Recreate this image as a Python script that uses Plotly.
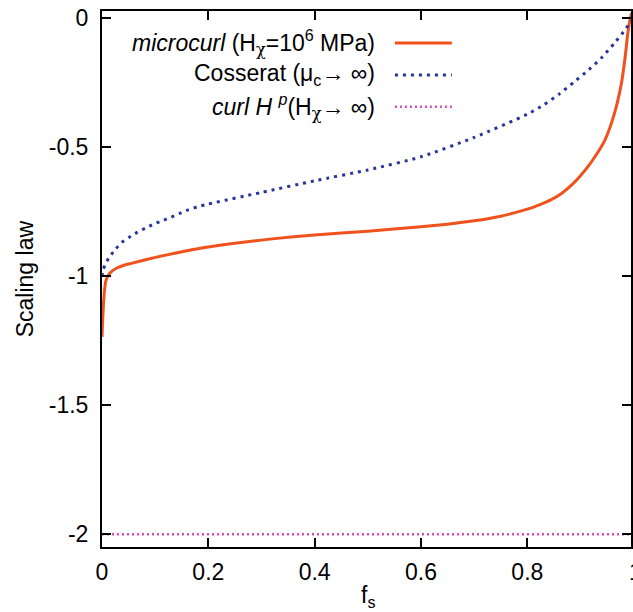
import plotly.graph_objects as go

# ---- data ----
f_micro = [0.0, 0.001, 0.003, 0.005, 0.007, 0.010, 0.014, 0.020, 0.028, 0.040, 0.057, 0.080,
           0.120, 0.180, 0.250, 0.320, 0.400, 0.500, 0.600, 0.650, 0.700, 0.750, 0.800, 0.825,
           0.845, 0.865, 0.883, 0.900, 0.914, 0.930, 0.946, 0.964, 0.977, 0.984, 0.989,
           0.993, 0.996]
s_micro = [-1.235, -1.18, -1.10, -1.05, -1.02, -1.003, -0.99, -0.978, -0.968, -0.958, -0.949,
           -0.937, -0.918, -0.893, -0.872, -0.855, -0.840, -0.825, -0.808, -0.798, -0.785,
           -0.767, -0.740, -0.721, -0.703, -0.678, -0.647, -0.610, -0.575, -0.528, -0.472,
           -0.368, -0.252, -0.150, -0.058, -0.008, 0.02]

f_coss = [0.0, 0.002, 0.006, 0.014, 0.026, 0.037, 0.052, 0.067, 0.082, 0.097, 0.114, 0.130,
          0.146, 0.162, 0.179, 0.200, 0.300, 0.400, 0.500, 0.600, 0.700, 0.800, 0.832,
          0.861, 0.888, 0.916, 0.941, 0.964, 0.986, 0.995]
s_coss = [-1.0, -0.975, -0.955, -0.925, -0.894, -0.869, -0.848, -0.829, -0.813, -0.798, -0.784,
          -0.771, -0.756, -0.743, -0.731, -0.720, -0.675, -0.630, -0.588, -0.537, -0.462,
          -0.372, -0.334, -0.292, -0.247, -0.199, -0.150, -0.096, -0.039, -0.010]

f_curl = [0.0, 1.0]
s_curl = [-2.0, -2.0]

x_ticks = [0, 0.2, 0.4, 0.6, 0.8]
x_ticktext = ["0", "0.2", "0.4", "0.6", "0.8"]
x_last_tick = "1"
y_ticks = [0, -0.5, -1, -1.5, -2]
y_ticktext = ["0", "-0.5", "-1", "-1.5", "-2"]

CHI = '<span style="font-family:DejaVu Serif">χ</span>'
legend_labels = ["<i>microcurl</i> (H<sub>" + CHI + "</sub>=10<sup>6</sup> MPa)",
                 "Cosserat (μ<sub>c</sub>→ ∞)",
                 "<i>curl H</i> <sup><i>p</i></sup>(H<sub>" + CHI + "</sub>→ ∞)"]

ORANGE = "#f0521e"
BLUE = "#2b3597"
PINK = "#d94eb4"
FONT = "Liberation Sans, Arial, sans-serif"
FS = 23

fig = go.Figure()
fig.add_trace(go.Scatter(x=f_micro, y=s_micro, mode="lines",
                         line=dict(color=ORANGE, width=3, shape="spline", smoothing=0.6),
                         showlegend=False))
fig.add_trace(go.Scatter(x=f_coss, y=s_coss, mode="lines",
                         line=dict(color=BLUE, width=3, dash="3px,5px", shape="spline", smoothing=0.6),
                         showlegend=False))
fig.add_trace(go.Scatter(x=f_curl, y=s_curl, mode="lines",
                         line=dict(color=PINK, width=2.5, dash="2px,3px"),
                         showlegend=False))

# manual gnuplot-style legend (text right-aligned, sample on the right)
leg_y = [-0.0957, -0.2196, -0.3435]
leg_styles = [dict(color=ORANGE, width=3),
              dict(color=BLUE, width=3, dash="3px,5px"),
              dict(color=PINK, width=2.5, dash="2px,3px")]
for lab, yy, st in zip(legend_labels, leg_y, leg_styles):
    fig.add_annotation(x=0.5175, y=yy, xref="x", yref="y", text=lab, showarrow=False,
                       xanchor="right", yanchor="middle",
                       font=dict(family=FONT, size=FS, color="black"))
    fig.add_shape(type="line", x0=0.551, x1=0.658, y0=yy, y1=yy, xref="x", yref="y",
                  line=st)

# partially visible tick label "1" at the right edge (f = 1 lies just past the page edge)
fig.add_annotation(x=(637.5 - 102) / 531, y=-0.0465, xref="paper", yref="paper",
                   text=x_last_tick, showarrow=False, xanchor="center", yanchor="middle",
                   font=dict(family=FONT, size=FS, color="black"))

# axis titles
fig.add_annotation(x=0.503, y=-0.093, xref="paper", yref="paper", text="f<sub>s</sub>",
                   showarrow=False, xanchor="center", yanchor="middle",
                   font=dict(family=FONT, size=FS, color="black"))
fig.add_annotation(x=-(102 - 25) / 531, y=0.5, xref="paper", yref="paper", text="Scaling law",
                   showarrow=False, xanchor="center", yanchor="middle", textangle=-90,
                   font=dict(family=FONT, size=FS, color="black"))

fig.update_layout(
    width=633, height=612,
    margin=dict(l=102, r=0, t=11, b=65),
    paper_bgcolor="white", plot_bgcolor="white",
    font=dict(family=FONT, size=FS, color="black"),
    xaxis=dict(range=[0, 0.995], tickvals=x_ticks + [1], ticktext=x_ticktext + [""],
               ticks="inside", ticklen=9, tickwidth=1.5, tickcolor="black",
               showline=True, linecolor="black", linewidth=2, mirror="ticks",
               showgrid=False, zeroline=False, ticklabelstandoff=3,
               tickfont=dict(family=FONT, size=FS)),
    yaxis=dict(range=[-2.049, 0.028], tickvals=y_ticks, ticktext=y_ticktext,
               ticks="inside", ticklen=9, tickwidth=1.5, tickcolor="black",
               showline=True, linecolor="black", linewidth=2, mirror="ticks",
               showgrid=False, zeroline=False, ticklabelstandoff=7,
               tickfont=dict(family=FONT, size=FS)),
)

fig.write_html("out.html")
